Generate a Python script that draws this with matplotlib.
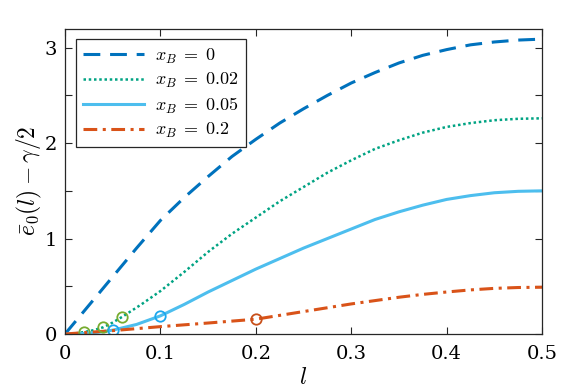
import matplotlib
matplotlib.use("Agg")
import matplotlib.pyplot as plt
from matplotlib.ticker import MultipleLocator

plt.rcParams['mathtext.fontset'] = 'cm'
plt.rcParams['font.family'] = 'DejaVu Serif'

# x_B = 0
l_0 = [0, 0.025, 0.05, 0.075, 0.1, 0.125, 0.15, 0.175, 0.2, 0.225, 0.25,
       0.275, 0.3, 0.325, 0.35, 0.375, 0.4, 0.425, 0.45, 0.475, 0.5]
e_0 = [0, 0.30, 0.60, 0.90, 1.19, 1.43, 1.65, 1.86, 2.04, 2.21, 2.36,
       2.50, 2.63, 2.74, 2.84, 2.92, 2.98, 3.03, 3.06, 3.08, 3.09]

# x_B = 0.02
l_02 = [0, 0.01, 0.02, 0.03, 0.04, 0.05, 0.06, 0.08, 0.1, 0.125, 0.15, 0.175,
        0.2, 0.225, 0.25, 0.275, 0.3, 0.325, 0.35, 0.375, 0.4, 0.425, 0.45, 0.475, 0.5]
e_02 = [0, 0.005, 0.02, 0.04, 0.07, 0.12, 0.18, 0.31, 0.45, 0.65, 0.86, 1.05,
        1.22, 1.39, 1.54, 1.69, 1.82, 1.94, 2.03, 2.11, 2.17, 2.21, 2.24, 2.255, 2.26]
mk_l_02 = [0.02, 0.04, 0.06]
mk_e_02 = [0.02, 0.07, 0.18]

# x_B = 0.05
l_05 = [0, 0.02, 0.035, 0.05, 0.075, 0.1, 0.125, 0.15, 0.175, 0.2, 0.225, 0.25,
        0.275, 0.3, 0.325, 0.35, 0.375, 0.4, 0.425, 0.45, 0.475, 0.5]
e_05 = [0, 0.005, 0.018, 0.04, 0.1, 0.19, 0.31, 0.44, 0.56, 0.68, 0.79, 0.90,
        1.00, 1.10, 1.20, 1.28, 1.35, 1.41, 1.45, 1.48, 1.495, 1.50]
mk_l_05 = [0.05, 0.1]
mk_e_05 = [0.04, 0.19]

# x_B = 0.2
l_2 = [0, 0.05, 0.1, 0.15, 0.2, 0.225, 0.25, 0.275, 0.3, 0.325, 0.35, 0.375,
       0.4, 0.425, 0.45, 0.475, 0.5]
e_2 = [0, 0.035, 0.077, 0.115, 0.155, 0.195, 0.235, 0.275, 0.315, 0.35, 0.385,
       0.415, 0.44, 0.462, 0.478, 0.487, 0.49]
mk_l_2 = [0.2]
mk_e_2 = [0.155]

xticks = [0, 0.1, 0.2, 0.3, 0.4, 0.5]
xtick_labels = ['0', '0.1', '0.2', '0.3', '0.4', '0.5']

fig = plt.figure(figsize=(5.62, 3.92), dpi=100)
ax = fig.add_axes([0.1157, 0.148, 0.8488, 0.779])

ax.plot(l_0, e_0, '--', color='#0072BD', lw=2.2, dashes=(5.5, 3.2), label=r'$x_B\;=\;0$')
ax.plot(l_02, e_02, ':', color='#00A383', lw=1.8, dashes=(1, 1.1), label=r'$x_B\;=\;0.02$')
ax.plot(l_05, e_05, '-', color='#4DBEEE', lw=2.2, label=r'$x_B\;=\;0.05$')
ax.plot(l_2, e_2, '-.', color='#D95319', lw=2.2, dashes=(4.5, 1.8, 1, 1.8), label=r'$x_B\;=\;0.2$')

ax.plot(mk_l_02, mk_e_02, 'o', mfc='none', mec='#77AC30', ms=7.5, mew=1.3)
ax.plot(mk_l_05, mk_e_05, 'o', mfc='none', mec='#1AA7EE', ms=7.5, mew=1.3)
ax.plot(mk_l_2, mk_e_2, 'o', mfc='none', mec='#C8501A', ms=7.5, mew=1.3)

ax.set_xlim(0, 0.5)
ax.set_ylim(0, 3.2)
ax.set_xticks(xticks)
ax.set_xticklabels(xtick_labels)
ax.yaxis.set_major_locator(MultipleLocator(1))
ax.yaxis.set_minor_locator(MultipleLocator(0.5))
ax.tick_params(which='both', direction='in', top=True, right=True, length=5,
               labelsize=14, color='#262626', width=0.8)
ax.tick_params(axis='x', pad=8)
ax.tick_params(axis='y', pad=6)
for s in ax.spines.values():
    s.set_color('#262626')
    s.set_linewidth(0.9)

ax.set_xlabel('$l$', fontsize=17, labelpad=2)
ax.set_ylabel(r'$\bar{e}_0(l) - \gamma/2$', fontsize=17, labelpad=0)

leg = ax.legend(loc='upper left', fontsize=13, fancybox=False, framealpha=1,
                edgecolor='#262626', handlelength=3.4, borderaxespad=0.6,
                labelspacing=0.3, borderpad=0.4, handletextpad=0.6)
leg.get_frame().set_linewidth(0.9)

fig.savefig('out.png', dpi=100)
